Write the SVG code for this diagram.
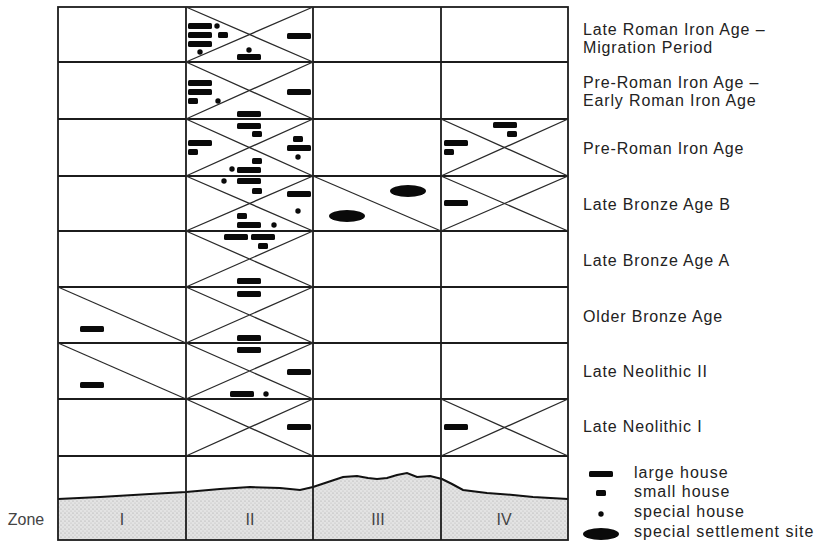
<svg xmlns="http://www.w3.org/2000/svg" xmlns:xlink="http://www.w3.org/1999/xlink" width="816" height="543" viewBox="0 0 816 543">
<style>
.grid{stroke:#1c1c1c;stroke-width:1.8;fill:none}
.diag{stroke:#2a2a2a;stroke-width:1.3;fill:none}
.mk{fill:#0a0a0a}
.lbl{font-family:"Liberation Sans",Arial,sans-serif;font-size:16px;fill:#222;letter-spacing:0.85px}
.leg{font-family:"Liberation Sans",Arial,sans-serif;font-size:16px;fill:#222;letter-spacing:1px}
.zone{font-family:"Liberation Sans",Arial,sans-serif;font-size:16px;fill:#444;text-anchor:middle}
</style>
<defs>
<pattern id="stip" width="4" height="4" patternUnits="userSpaceOnUse">
<rect width="4" height="4" fill="#e3e3e3"/>
<circle cx="1" cy="1" r="0.6" fill="#a0a0a0"/>
<circle cx="3" cy="3" r="0.6" fill="#b8b8b8"/>
</pattern>
<rect id="L" width="24" height="6" rx="1.5"/>
<rect id="S" width="10" height="6" rx="1.5"/>
<circle id="C" r="2.7"/>
<ellipse id="E" rx="18" ry="6"/>
</defs>
<rect width="816" height="543" fill="#fff"/>

<g id="ground">
<path d="M58,499 L100,497 L150,494 L186,492 L220,489 L250,487 L280,488 L300,490 L313,487 L325,483 L343,477 L357,476 L368,478 L377,479 L387,478 L397,475 L407,473 L417,477 L430,476 L442,479 L452,484 L463,490 L487,493 L513,495 L533,497 L568,499 L568,540 L58,540 Z" fill="url(#stip)"/>
<path d="M58,499 L100,497 L150,494 L186,492 L220,489 L250,487 L280,488 L300,490 L313,487 L325,483 L343,477 L357,476 L368,478 L377,479 L387,478 L397,475 L407,473 L417,477 L430,476 L442,479 L452,484 L463,490 L487,493 L513,495 L533,497 L568,499" fill="none" stroke="#111" stroke-width="2"/>
</g>

<g id="grid">
<rect class="grid" x="58" y="7" width="510" height="533"/>
<path class="grid" d="M186,7V540M313,7V540M441,7V540M58,62H568M58,119H568M58,176H568M58,231H568M58,287H568M58,343H568M58,399H568M58,456H568"/>
</g>

<g id="connectors">
<path class="diag" d="M186,7L313,62M186,62L313,7"/>
<path class="diag" d="M186,62L313,119M186,119L313,62"/>
<path class="diag" d="M186,119L313,176M186,176L313,119"/>
<path class="diag" d="M186,176L313,231M186,231L313,176"/>
<path class="diag" d="M186,231L313,287M186,287L313,231"/>
<path class="diag" d="M186,287L313,343M186,343L313,287"/>
<path class="diag" d="M186,343L313,399M186,399L313,343"/>
<path class="diag" d="M186,399L313,456M186,456L313,399"/>
<path class="diag" d="M441,119L568,176M441,176L568,119"/>
<path class="diag" d="M441,176L568,231M441,231L568,176"/>
<path class="diag" d="M441,399L568,456M441,456L568,399"/>
<path class="diag" d="M313,176L441,231"/>
<path class="diag" d="M58,287L186,343"/>
<path class="diag" d="M58,343L186,399"/>
</g>

<g id="zone-II-sites" class="mk">
<use href="#L" x="188" y="23"/><use href="#L" x="188" y="32"/><use href="#L" x="188" y="41"/>
<use href="#C" x="217" y="26"/><use href="#S" x="218" y="32"/><use href="#C" x="200" y="52"/>
<use href="#C" x="249" y="50"/><use href="#L" x="237" y="54"/><use href="#L" x="287" y="33"/>
<use href="#L" x="188" y="80"/><use href="#L" x="188" y="89"/><use href="#S" x="188" y="98"/>
<use href="#C" x="218" y="101"/><use href="#L" x="287" y="89"/><use href="#L" x="237" y="111"/>
<use href="#L" x="237" y="123"/><use href="#S" x="252" y="131"/><use href="#L" x="188" y="140"/>
<use href="#S" x="188" y="149"/><use href="#S" x="293" y="136"/><use href="#L" x="287" y="145"/>
<use href="#C" x="298" y="157"/><use href="#S" x="252" y="158"/><use href="#C" x="232" y="169"/>
<use href="#L" x="237" y="167"/>
<use href="#C" x="224" y="181"/><use href="#L" x="237" y="178"/><use href="#S" x="252" y="188"/>
<use href="#L" x="287" y="191"/><use href="#C" x="298" y="211"/><use href="#S" x="237" y="213"/>
<use href="#L" x="237" y="222"/><use href="#C" x="274" y="225"/><use href="#L" x="224" y="234"/>
<use href="#L" x="251" y="234"/><use href="#S" x="258" y="243"/>
<use href="#L" x="237" y="278"/><use href="#L" x="237" y="291"/>
<use href="#L" x="237" y="335"/><use href="#L" x="237" y="347"/>
<use href="#L" x="287" y="369"/><use href="#L" x="230" y="391"/><use href="#C" x="266" y="394"/>
<use href="#L" x="287" y="424"/>
</g>

<g id="zone-I-sites" class="mk">
<use href="#L" x="80" y="326"/><use href="#L" x="80" y="382"/>
</g>

<g id="zone-III-sites" class="mk">
<use href="#E" x="408" y="191"/><use href="#E" x="347" y="216"/>
</g>

<g id="zone-IV-sites" class="mk">
<use href="#L" x="493" y="122"/><use href="#S" x="507" y="131"/>
<use href="#L" x="444" y="140"/><use href="#S" x="444" y="149"/>
<use href="#L" x="444" y="200"/><use href="#L" x="444" y="424"/>
</g>

<g id="period-labels">
<text class="lbl" x="583" y="35">Late Roman Iron Age –</text>
<text class="lbl" x="583" y="53">Migration Period</text>
<text class="lbl" x="583" y="88">Pre-Roman Iron Age –</text>
<text class="lbl" x="583" y="106">Early Roman Iron Age</text>
<text class="lbl" x="583" y="154">Pre-Roman Iron Age</text>
<text class="lbl" x="583" y="210">Late Bronze Age B</text>
<text class="lbl" x="583" y="266">Late Bronze Age A</text>
<text class="lbl" x="583" y="322">Older Bronze Age</text>
<text class="lbl" x="583" y="377">Late Neolithic II</text>
<text class="lbl" x="583" y="432">Late Neolithic I</text>
</g>

<g id="zone-labels">
<text class="zone" x="26" y="525">Zone</text>
<text class="zone" x="122" y="525">I</text>
<text class="zone" x="250" y="525">II</text>
<text class="zone" x="378" y="525">III</text>
<text class="zone" x="504" y="525">IV</text>
</g>

<g id="legend">
<use class="mk" href="#L" x="589" y="471"/>
<use class="mk" href="#S" x="596" y="490"/>
<use class="mk" href="#C" x="601" y="514"/>
<use class="mk" href="#E" x="601" y="534"/>
<text class="leg" x="634" y="478">large house</text>
<text class="leg" x="634" y="497">small house</text>
<text class="leg" x="634" y="517">special house</text>
<text class="leg" x="634" y="537">special settlement site</text>
</g>
</svg>
